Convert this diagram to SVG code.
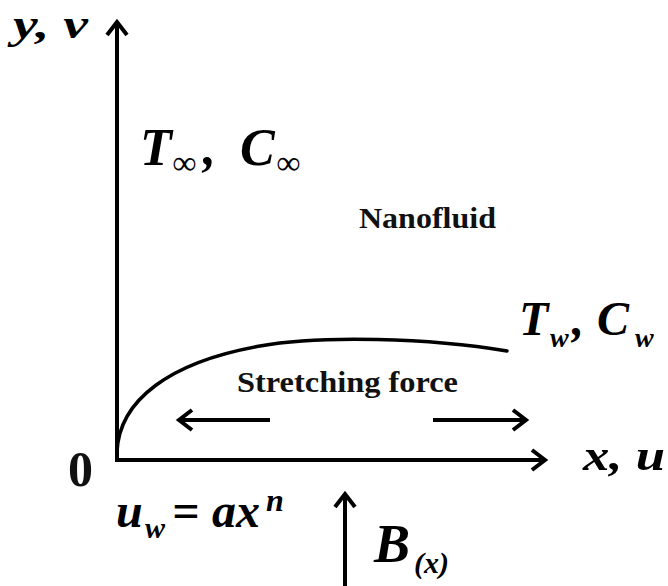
<svg xmlns="http://www.w3.org/2000/svg" width="668" height="586" viewBox="0 0 668 586">
  <style>
    .ax { stroke: #000; stroke-width: 4; fill: none; }
    .cv { stroke: #000; stroke-width: 3.5; fill: none; stroke-linecap: round; }
    .mi { font-family: "Liberation Serif", "Times New Roman", serif; font-style: italic; font-weight: bold; fill: #000; }
    .bd { font-family: "Liberation Serif", "Times New Roman", serif; font-weight: bold; fill: #111; }
  </style>
  <defs>
    <marker id="ah" markerUnits="userSpaceOnUse" markerWidth="40" markerHeight="40" viewBox="-20 -20 40 40" refX="0" refY="0" orient="auto" overflow="visible">
      <path d="M-13,-10 L0,0 L-13,10" fill="none" stroke="#000" stroke-width="4" stroke-linejoin="miter"/>
    </marker>
  </defs>
  <rect width="668" height="586" fill="#fff"/>

  <g id="connectors">
    <path id="y-axis" class="ax" d="M117,462 L117,22" marker-end="url(#ah)"/>
    <path id="x-axis" class="ax" d="M115,460 L545,460" marker-end="url(#ah)"/>
    <path id="stretch-left" class="ax" d="M270,420 L179,420" marker-end="url(#ah)"/>
    <path id="stretch-right" class="ax" d="M433,420 L526,420" marker-end="url(#ah)"/>
    <path id="b-arrow" class="ax" d="M345,586 L345,494" stroke-width="3.5" marker-end="url(#ah)"/>
    <path id="boundary-layer" class="cv" d="M117,452 C119,400 170,362 260,346 C320,335 430,338 507,351"/>
  </g>

  <g id="label-yv">
    <text class="mi" x="13" y="38" font-size="40" textLength="75" lengthAdjust="spacingAndGlyphs">y, v</text>
  </g>
  <g id="label-tinf">
    <text class="mi" y="165" font-size="52"><tspan x="140">T</tspan><tspan x="172" y="174" font-size="34">∞</tspan><tspan x="203" y="165">,</tspan><tspan x="227" y="165"> C</tspan><tspan x="276" y="174" font-size="34">∞</tspan></text>
  </g>
  <g id="label-nanofluid">
    <text class="bd" x="359" y="228" font-size="29" textLength="137" lengthAdjust="spacingAndGlyphs">Nanofluid</text>
  </g>
  <g id="label-tw">
    <text class="mi" y="335" font-size="48"><tspan x="519">T</tspan><tspan x="550" y="347" font-size="28">w</tspan><tspan x="572" y="335">,</tspan><tspan x="597" y="335">C</tspan><tspan x="635" y="347" font-size="28">w</tspan></text>
  </g>
  <g id="label-stretching">
    <text class="bd" x="237" y="392" font-size="30" textLength="221" lengthAdjust="spacingAndGlyphs">Stretching force</text>
  </g>
  <g id="label-origin">
    <text class="bd" x="68" y="486" font-size="50" fill="#000">0</text>
  </g>
  <g id="label-xu">
    <text class="mi" x="583" y="470" font-size="44" textLength="82" lengthAdjust="spacingAndGlyphs">x, u</text>
  </g>
  <g id="label-uw">
    <text class="mi" y="527" font-size="48"><tspan x="116">u</tspan><tspan x="145" y="538" font-size="30">w</tspan><tspan x="172" y="527">=</tspan><tspan x="212" y="527">ax</tspan><tspan x="266" y="511" font-size="32">n</tspan></text>
  </g>
  <g id="label-b">
    <text class="mi" y="562" font-size="54"><tspan x="374">B</tspan><tspan x="414" y="573" font-size="30">(x)</tspan></text>
  </g>
</svg>
